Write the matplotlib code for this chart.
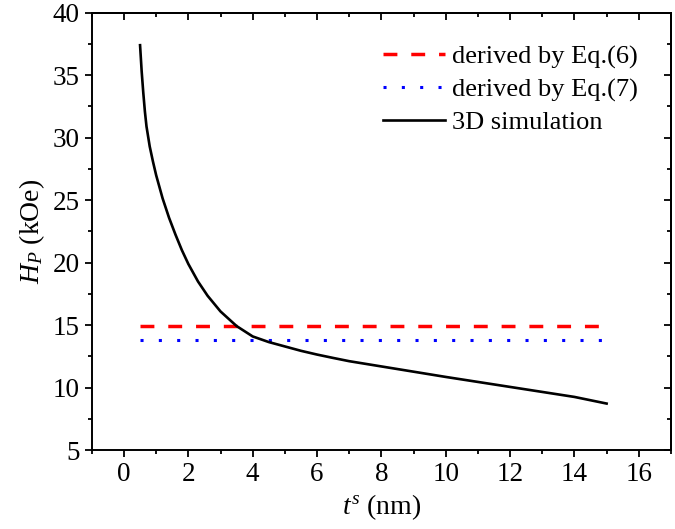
import numpy as np
import matplotlib
matplotlib.use("Agg")
import matplotlib.pyplot as plt
from matplotlib.ticker import MultipleLocator

plt.rcParams['font.family'] = 'Liberation Serif'
plt.rcParams['mathtext.fontset'] = 'custom'
plt.rcParams['mathtext.rm'] = 'Liberation Serif'
plt.rcParams['mathtext.it'] = 'Liberation Serif:italic'

# values
ts = [0.5, 0.55, 0.6, 0.65, 0.7, 0.8, 0.9, 1.0, 1.2, 1.4, 1.6, 1.8, 2.0, 2.3, 2.6,
      3.0, 3.5, 4.0, 4.5, 5.0, 5.5, 6.0, 6.5, 7.0, 8.0, 9.0, 10.0, 11.0, 12.0,
      13.0, 14.0, 15.0]
hp_sim = [37.4, 35.3, 33.6, 32.1, 30.9, 29.3, 28.1, 27.0, 25.15, 23.6, 22.25, 21.0, 19.9,
          18.5, 17.35, 16.1, 14.93, 14.1, 13.65, 13.3, 12.95, 12.65, 12.38, 12.12,
          11.7, 11.28, 10.86, 10.46, 10.06, 9.66, 9.26, 8.73]
eq_range = [0.5, 15.0]
hp_eq6 = 14.92
hp_eq7 = 13.85

fig = plt.figure(figsize=(6.75, 5.29), dpi=100)
ax = fig.add_axes([0.136, 0.149, 0.858, 0.827])

ax.plot(eq_range, [hp_eq6, hp_eq6], color='red', lw=2.5, dashes=(4, 4),
        label='derived by Eq.(6)')
ax.plot(eq_range, [hp_eq7, hp_eq7], color='blue', lw=2.2, dashes=(1, 5),
        label='derived by Eq.(7)')
ax.plot(ts, hp_sim, color='black', lw=1.9, label='3D simulation')

ax.set_xlim(-1, 17)
ax.set_ylim(5, 40)
ax.xaxis.set_major_locator(MultipleLocator(2))
ax.xaxis.set_minor_locator(MultipleLocator(1))
ax.yaxis.set_major_locator(MultipleLocator(5))
ax.yaxis.set_minor_locator(MultipleLocator(2.5))
ax.tick_params(which='both', direction='out', width=1.3, labelsize=19.5)
ax.tick_params(which='major', length=5)
ax.tick_params(which='minor', length=3)
for s in ax.spines.values():
    s.set_linewidth(1.4)

## inward ticks on top and right
top = ax.secondary_xaxis('top')
right = ax.secondary_yaxis('right')
top.xaxis.set_major_locator(MultipleLocator(2))
top.xaxis.set_minor_locator(MultipleLocator(1))
right.yaxis.set_major_locator(MultipleLocator(5))
right.yaxis.set_minor_locator(MultipleLocator(2.5))
for sec in (top, right):
    sec.tick_params(which='both', direction='in', width=1.3, labeltop=False, labelright=False)
    sec.tick_params(which='major', length=5)
    sec.tick_params(which='minor', length=3)
    for s in sec.spines.values():
        s.set_linewidth(1.4)

ax.set_xlabel(r'$t^s$ (nm)', fontsize=20, labelpad=4)
ax.set_ylabel(r'$H_P$ (kOe)', fontsize=20, labelpad=4)

ax.legend(loc='upper right', frameon=False, fontsize=19, handlelength=2.35,
          handletextpad=0.25, labelspacing=0.33, bbox_to_anchor=(0.984, 0.98))

fig.savefig('out.png', dpi=100)
